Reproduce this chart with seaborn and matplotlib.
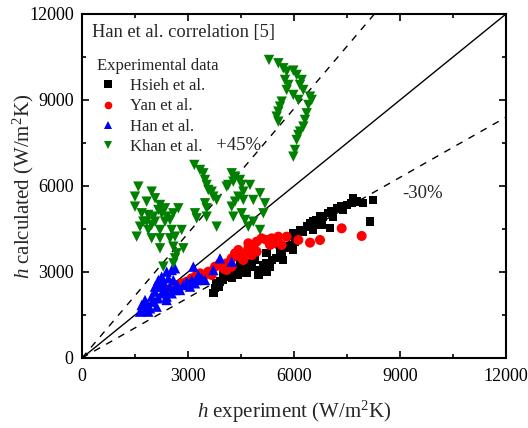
import numpy as np
import pandas as pd
import matplotlib
matplotlib.use("Agg")
import matplotlib.pyplot as plt
import seaborn as sns
from matplotlib.ticker import MultipleLocator
from matplotlib.lines import Line2D

sns.set_theme(style="ticks")
plt.rcParams['font.family'] = ['Liberation Serif', 'DejaVu Serif']
plt.rcParams['mathtext.fontset'] = 'custom'
plt.rcParams['mathtext.rm'] = 'Liberation Serif'
plt.rcParams['mathtext.it'] = 'Liberation Serif:italic'

# ---------------- data ----------------
hsieh_x = [3717, 3764, 3811, 3906, 4000, 4094, 4189, 4236, 4330, 4424, 4519, 4613, 4708, 4802, 4896,
           4991, 5038, 5132, 5226, 5321, 5368, 5509, 5604, 5651, 5745, 5840, 5934, 6028, 6075, 6170,
           6264, 6359, 6453, 6547, 6641, 6736, 6830, 6972, 7066, 7208, 7349, 7491, 7632, 7679, 7774,
           7962, 8245, 8151, 7019, 5604, 5226, 4849, 4472, 4236, 4000, 3859, 5981, 6547, 6783, 7113,
           7396, 5981, 5698, 5226, 4660]
hsieh_y = [2256, 2431, 2605, 2663, 2721, 2838, 2954, 2780, 3012, 2896, 3128, 3245, 3303, 3187, 3419,
           2896, 3070, 3245, 3303, 3187, 3419, 3477, 3536, 3652, 3826, 3884, 3943, 4059, 4350, 4466,
           4408, 4582, 4699, 4757, 4815, 4931, 4931, 5047, 5106, 5222, 5280, 5338, 5396, 5571, 5454,
           5396, 5513, 4757, 4524, 3826, 3652, 3536, 3303, 3128, 2954, 2489, 4350, 4466, 4640, 4931,
           5164, 3768, 3419, 3012, 2954]

yan_x = [2396, 2538, 2679, 2821, 2962, 3104, 3245, 3340, 3434, 3575, 3670, 3764, 3906, 4000, 4094,
         4236, 4330, 4424, 4472, 4613, 4708, 4849, 4943, 4708, 4943, 5085, 5226, 5368, 5321, 5415,
         5557, 5651, 5792, 6123, 6453, 6736, 7349, 7915, 4236, 4094, 4566, 4802]
yan_y = [2373, 2431, 2489, 2605, 2663, 2780, 2896, 2954, 2838, 3012, 2896, 3187, 3303, 3128, 3303,
         3477, 3652, 3768, 3536, 3652, 3826, 3884, 3710, 4001, 4059, 4175, 4117, 4175, 3943, 4001,
         4233, 3943, 4233, 4117, 4024, 4117, 4524, 4257, 3187, 3070, 3419, 3594]

han_x = [1642, 1783, 1925, 1689, 1830, 2019, 2160, 2255, 2349, 2208, 2302, 2160, 2255, 2396, 2538,
         2632, 2443, 2585, 2491, 2632, 2726, 2868, 2962, 3104, 3245, 3387, 3481, 3151, 3292, 3717,
         3906, 4236, 1972, 2066, 1783, 2113, 2396, 2538, 2774, 1877, 2208, 2066, 3057, 3198, 2396, 2679]
han_y = [1617, 1675, 1733, 1849, 1907, 1965, 2082, 2256, 2373, 2489, 2663, 2721, 2838, 3012, 3070,
         3128, 2780, 2721, 2489, 2373, 2489, 2547, 2663, 2721, 2721, 2780, 2721, 3187, 2896, 3070,
         3477, 3361, 2140, 2314, 2023, 1791, 2023, 2256, 2373, 1617, 2605, 2489, 2489, 2605, 2140, 2547]

khan_x = [5293, 5557, 5698, 5792, 5981, 6075, 6217, 5745, 5840, 5792, 5981, 6123, 6453, 6500, 6406,
          5651, 5604, 5557, 5509, 5557, 6359, 6311, 6264, 6170, 6123, 6075, 6028, 5981, 6170, 6264,
          3179, 3340, 3434, 3481, 3528, 3575, 3670, 3717, 3811, 3481, 3528, 3198, 3528, 3245, 3811,
          4236, 4330, 4142, 4283, 4472, 4519, 4755, 4566, 4424, 4566, 4849, 5038, 5179, 4236, 4283,
          4519, 4613, 4849, 5038, 5132, 4708, 4330, 4094,
          1594, 1972, 2066, 1500, 1830, 2208, 2349, 2726, 1500, 1689, 1877, 2019, 2255, 2396, 2585,
          1830, 2066, 2349, 2491, 1642, 1877, 2208, 2538, 2821, 1547, 1972, 2208, 2491, 2632, 2208,
          2585, 2868, 2679, 2632, 2585, 2302, 1972, 2160, 1736]
khan_y = [10397, 10281, 10107, 9990, 10025, 9874, 9699, 9699, 9525, 9350, 9176, 9002, 9118, 9002, 8827,
          8943, 8769, 8594, 8420, 8245, 8536, 8304, 8071, 7897, 7780, 7606, 7257, 7024, 9525, 9350,
          6734, 6559, 6443, 6210, 6036, 5862, 5803, 5629, 5513, 5396, 5222, 5047, 4931, 4873, 4582,
          6443, 6327, 6036, 6152, 6210, 6036, 6036, 5803, 5629, 5513, 5513, 5745, 5396, 5280, 4931,
          5047, 4815, 4757, 4466, 5047, 4582, 5454, 5978,
          5978, 5803, 5571, 5629, 5454, 5338, 5222, 5222, 5280, 5047, 4989, 4931, 5047, 4931, 5047,
          4757, 4757, 4757, 4815, 4582, 4466, 4466, 4466, 4466, 4233, 4175, 4175, 4175, 4233, 3826,
          3884, 3826, 3652, 3477, 3303, 3187, 4640, 5164, 4757]

series = [
    ("Hsieh et al.", hsieh_x, hsieh_y, "black", "s", 36),
    ("Yan et al.", yan_x, yan_y, "#ff0000", "o", 52),
    ("Han et al.", han_x, han_y, "#0000ff", "^", 56),
    ("Khan et al.", khan_x, khan_y, "#008000", "v", 56),
]

fig = plt.figure(figsize=(5.28, 4.28), dpi=100)
ax = fig.add_axes([82/528, 1-358/428, 424/528, 344/428])

# reference lines
ref = np.array([0, 12000])
ax.plot(ref, ref, color="black", lw=1.0, zorder=1)
ax.plot(ref, ref*1.45, color="black", lw=1.0, ls=(0, (5, 5)), zorder=1)
ax.plot(ref, ref*0.70, color="black", lw=1.0, ls=(0, (5, 5)), zorder=1)

handles = []
for name, xs, ys, col, mk, s in series:
    df = pd.DataFrame({"x": xs, "y": ys})
    sns.scatterplot(data=df, x="x", y="y", ax=ax, color=col, marker=mk, s=s,
                    edgecolor="none", linewidth=0, zorder=3, legend=False)
    handles.append(Line2D([], [], ls="none", marker=mk, color=col, markersize=5.5,
                          markeredgewidth=0, label=name))

ax.set_xlim(0, 12000)
ax.set_ylim(0, 12000)
ax.xaxis.set_major_locator(MultipleLocator(3000))
ax.yaxis.set_major_locator(MultipleLocator(3000))
ax.xaxis.set_minor_locator(MultipleLocator(1500))
ax.yaxis.set_minor_locator(MultipleLocator(1500))
ax.tick_params(which="both", direction="in", top=True, right=True, width=1.2,
               labelsize=13, colors="black")
ax.tick_params(axis="x", which="both", pad=7)
ax.tick_params(axis="y", which="both", pad=6)
ax.tick_params(which="major", length=5)
ax.tick_params(which="minor", length=3)
for sp in ax.spines.values():
    sp.set_linewidth(1.5)
    sp.set_color("black")

ax.set_xlabel(r"$h$ experiment (W/m$^2$K)", fontsize=15)
ax.set_ylabel(r"$h$ calculated (W/m$^2$K)", fontsize=15)
ax.xaxis.set_label_coords(0.5, -0.118)
ax.yaxis.set_label_coords(-0.108, 0.5)

ax.text(0.024, 0.945, "Han et al. correlation [5]", transform=ax.transAxes,
        fontsize=13.3, ha="left", va="center")
ax.text(3780, 7430, "+45%", fontsize=13.5, ha="left", va="center")
ax.text(9050, 5750, "-30%", fontsize=13.5, ha="left", va="center")

leg = ax.legend(handles=handles, title="Experimental data", loc="upper left",
                bbox_to_anchor=(0.019, 0.891), frameon=False, fontsize=12,
                title_fontsize=12, handletextpad=0.6, labelspacing=0.25,
                borderaxespad=0, handlelength=1.4)
leg._legend_box.align = "left"

fig.savefig("out.png", dpi=100)
